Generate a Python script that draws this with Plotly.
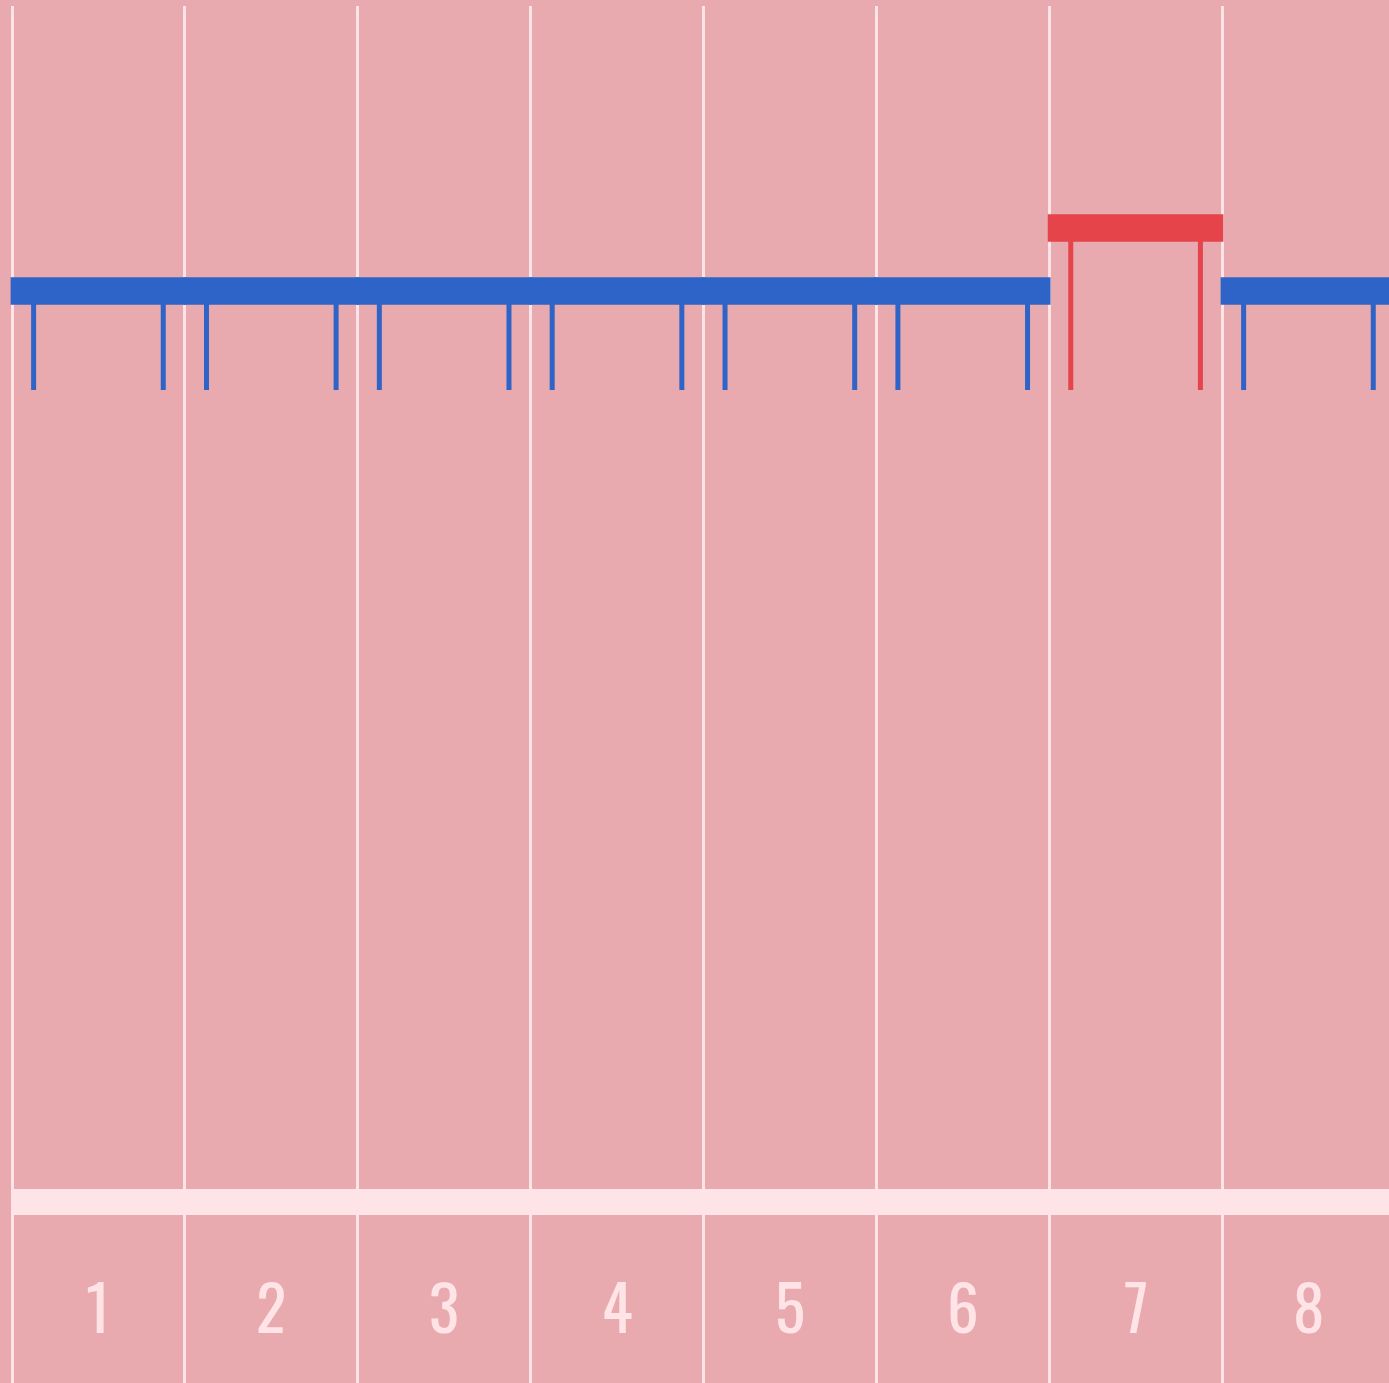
import plotly.graph_objects as go

# ---- data ----
categories = [1, 2, 3, 4, 5, 6, 7, 8]
levels = [9.11, 9.11, 9.11, 9.11, 9.11, 9.11, 9.74, 9.11]
groups = ["blue", "blue", "blue", "blue", "blue", "blue", "red", "blue"]
leg_bottom = 8.12
leg_offset = 0.375
bar_thickness = 0.277

BG = "#E8AAAF"
LIGHT = "#FEE4E6"
COLORS = {"blue": "#2E63C7", "red": "#E4444A"}

fig = go.Figure()

# legs
for g in ["blue", "red"]:
    xs, ys = [], []
    for c, lv, gr in zip(categories, levels, groups):
        if gr != g:
            continue
        for off in (-leg_offset, leg_offset):
            xs += [c + off, c + off, None]
            ys += [lv, leg_bottom, None]
    fig.add_trace(go.Scatter(x=xs, y=ys, mode="lines",
                             line=dict(color=COLORS[g], width=5),
                             hoverinfo="skip", showlegend=False))

# bars (floating horizontal slabs)
fig.add_trace(go.Bar(
    x=categories,
    y=[bar_thickness] * len(categories),
    base=[lv - bar_thickness / 2 for lv in levels],
    width=1.016,
    marker=dict(color=[COLORS[g] for g in groups], line=dict(width=0)),
    hoverinfo="skip", showlegend=False,
))

# baseline band
fig.add_shape(type="rect", xref="x", yref="y",
              x0=categories[0] - 0.5, x1=categories[-1] + 1,
              y0=-0.13, y1=0.13, fillcolor=LIGHT, line=dict(width=0),
              layer="below")

# category labels
for c in categories:
    fig.add_annotation(x=c, y=-1.02, text=str(c), showarrow=False,
                       xref="x", yref="y", yanchor="middle",
                       font=dict(family="Oswald, 'Liberation Sans Narrow', 'DejaVu Sans Condensed', 'Roboto Condensed', sans-serif",
                                 size=63, color=LIGHT))

fig.update_layout(
    width=1389, height=1383,
    margin=dict(l=0, r=0, t=6, b=0),
    paper_bgcolor=BG, plot_bgcolor=BG,
    barmode="overlay",
    showlegend=False,
    xaxis=dict(range=[0.43058, 8.46603], showticklabels=False, showgrid=False,
               zeroline=False, showline=False, ticks="",
               tickmode="array", tickvals=categories,
               minor=dict(tickmode="array",
                          tickvals=[c - 0.5 for c in categories] + [categories[-1] + 0.5],
                          showgrid=True, gridcolor=LIGHT, gridwidth=2.5, ticks="")),
    yaxis=dict(range=[-1.81, 11.96], showticklabels=False, showgrid=False,
               zeroline=False, showline=False, ticks=""),
)

fig.write_html(
    "out.html",
    config={"displayModeBar": False},
    post_script="document.body.style.margin='0';document.body.style.padding='0';"
                "document.body.style.background='%s';document.body.style.overflow='hidden';" % BG,
)
